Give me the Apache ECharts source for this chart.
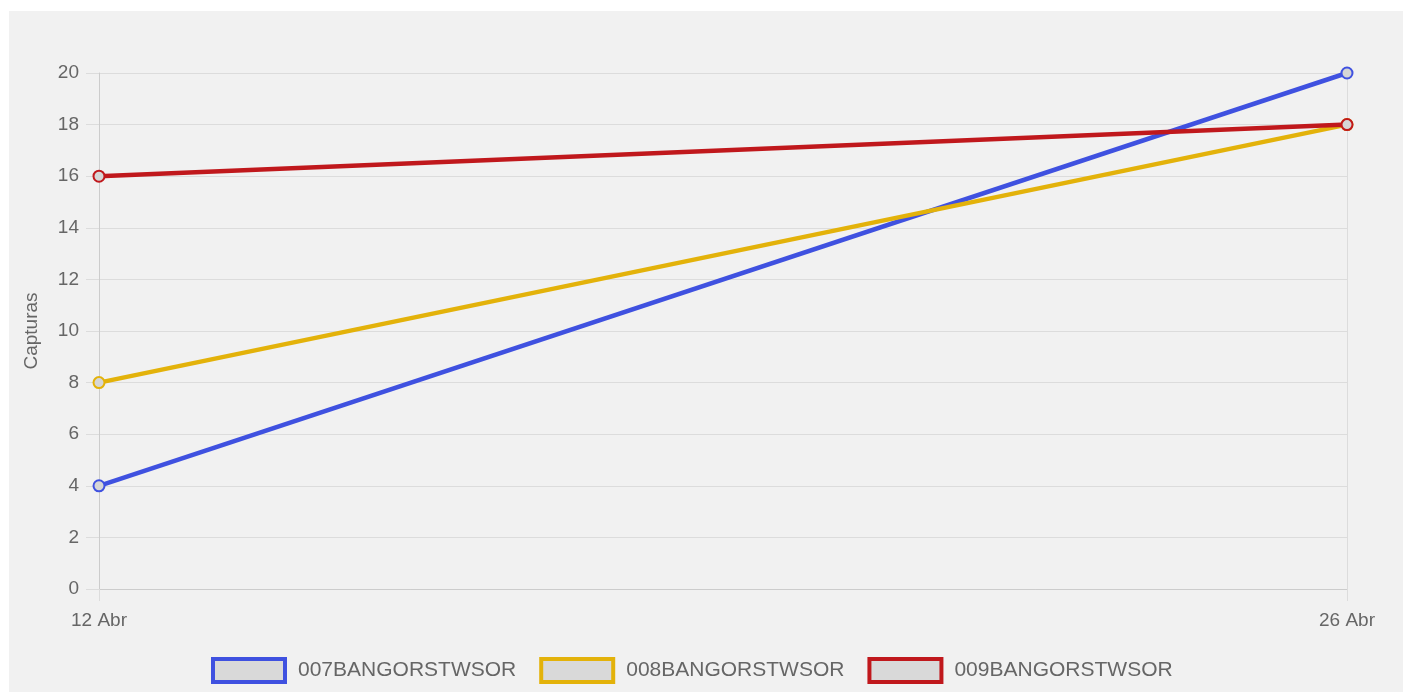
<!DOCTYPE html>
<html>
<head>
<meta charset="utf-8">
<script src="https://cdn.jsdelivr.net/npm/echarts@6/dist/echarts.min.js"></script>
<style>
  html, body { margin: 0; padding: 0; background: #ffffff; width: 1403px; height: 692px; overflow: hidden; }
  #chart { position: absolute; left: 9px; top: 11px; width: 1394px; height: 681px; }
</style>
</head>
<body>
<div id="chart"></div>
<script>
const categories = ['12 Abr', '26 Abr'];
const seriesNames = ['007BANGORSTWSOR', '008BANGORSTWSOR', '009BANGORSTWSOR'];
const values007 = [4, 20];
const values008 = [8, 18];
const values009 = [16, 18];
const seriesColors = ['#3f51e0', '#e3b20a', '#c0181c'];
const yTicks = { min: 0, max: 20, interval: 2 };
const yAxisName = 'Capturas';

const FONT = '"Liberation Sans", Arial, sans-serif';
const TEXT = '#666666';
const GRID = '#dcdcdc';

const allValues = [values007, values008, values009];

const chart = echarts.init(document.getElementById('chart'), null, { renderer: 'canvas' });
chart.setOption({
  backgroundColor: '#f1f1f1',
  animation: false,
  textStyle: { fontFamily: FONT },
  grid: { left: 90, right: 56, top: 62, bottom: 103, containLabel: false },
  legend: {
    top: 641,
    left: 197,
    icon: 'rect',
    itemWidth: 72,
    itemHeight: 23,
    itemGap: 23,
    textStyle: { color: TEXT, fontSize: 21, fontFamily: FONT, padding: [0, 0, 0, 8] },
    data: seriesNames.map((n, i) => ({
      name: n,
      itemStyle: { color: '#d9d9d9', borderColor: seriesColors[i], borderWidth: 4 }
    }))
  },
  xAxis: {
    type: 'category',
    boundaryGap: false,
    data: categories,
    axisLine: { show: true, lineStyle: { color: '#cccccc', width: 1 } },
    axisTick: { show: true, length: 12, lineStyle: { color: GRID } },
    splitLine: { show: true, lineStyle: { color: GRID, width: 1 } },
    axisLabel: { color: TEXT, fontSize: 19, fontFamily: FONT, margin: 22 }
  },
  yAxis: {
    type: 'value',
    min: yTicks.min,
    max: yTicks.max,
    interval: yTicks.interval,
    name: yAxisName,
    nameLocation: 'middle',
    nameGap: 58,
    nameTextStyle: { color: TEXT, fontSize: 19, fontFamily: FONT },
    axisLine: { show: true, lineStyle: { color: '#cccccc', width: 1 } },
    axisTick: { show: true, length: 13, lineStyle: { color: GRID } },
    splitLine: { show: true, lineStyle: { color: GRID, width: 1 } },
    axisLabel: { color: TEXT, fontSize: 19, fontFamily: FONT, margin: 20 }
  },
  series: seriesNames.map((n, i) => ({
    name: n,
    type: 'line',
    data: allValues[i],
    symbol: 'circle',
    symbolSize: 11,
    showSymbol: true,
    lineStyle: { color: seriesColors[i], width: 4.5 },
    itemStyle: { color: '#d6d6d6', borderColor: seriesColors[i], borderWidth: 2 },
    z: 2 + i
  }))
});
</script>
</body>
</html>
